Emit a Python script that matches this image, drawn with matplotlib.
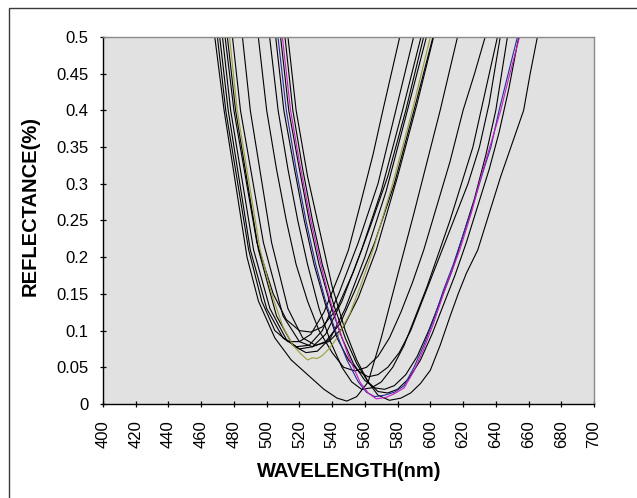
import matplotlib
matplotlib.use("Agg")
import matplotlib.pyplot as plt
from matplotlib.patches import Rectangle

plt.rcParams['font.family'] = ['Liberation Sans', 'DejaVu Sans']

# ---- data: wavelength (nm) / reflectance pairs ----
a1_wl = [468.3, 474, 481, 488, 495, 505, 515, 525, 535, 543, 549, 555, 562, 570, 577, 590, 606, 616.6]
a1_r  = [0.50, 0.40, 0.30, 0.20, 0.14, 0.09, 0.06, 0.04, 0.02, 0.008, 0.004, 0.01, 0.03, 0.09, 0.15, 0.26, 0.40, 0.50]

a2_wl = [469.9, 475, 489, 497, 505, 513, 520, 527, 535, 545, 550, 557, 565, 571, 581.3]
a2_r  = [0.50, 0.40, 0.21, 0.14, 0.10, 0.085, 0.085, 0.095, 0.125, 0.18, 0.21, 0.27, 0.34, 0.40, 0.50]

a3_wl = [471.3, 476.5, 490, 500, 510, 518, 526, 534, 544, 556, 568, 580, 589.8]
a3_r  = [0.50, 0.40, 0.21, 0.13, 0.09, 0.078, 0.08, 0.10, 0.15, 0.22, 0.30, 0.41, 0.50]

a4_wl = [473, 478, 492, 502, 512, 520, 528, 536, 546, 558, 570, 583, 594.3]
a4_r  = [0.50, 0.40, 0.21, 0.13, 0.088, 0.075, 0.078, 0.095, 0.14, 0.21, 0.29, 0.40, 0.50]

a5_wl = [474.6, 480, 494, 504, 512, 520, 527, 534, 543, 553, 563, 574, 585, 595.9]
a5_r  = [0.50, 0.40, 0.22, 0.15, 0.115, 0.10, 0.098, 0.105, 0.13, 0.18, 0.24, 0.31, 0.40, 0.50]

a6_wl = [476, 481, 495, 506, 516, 524, 531, 539, 548, 560, 573, 586, 597.6]
a6_r  = [0.50, 0.40, 0.21, 0.12, 0.08, 0.07, 0.072, 0.09, 0.13, 0.20, 0.29, 0.40, 0.50]

olive_wl = [477.3, 482, 496, 503, 510, 516, 521, 525, 528, 531, 534, 538, 543, 551, 558, 565, 577, 589, 600]
olive_r  = [0.50, 0.40, 0.21, 0.15, 0.105, 0.08, 0.068, 0.06, 0.063, 0.062, 0.066, 0.075, 0.09, 0.124, 0.165, 0.21, 0.30, 0.40, 0.50]

a8_wl = [479.1, 484, 498, 510, 520, 528, 536, 545, 555, 566, 578, 590, 601.6]
a8_r  = [0.50, 0.40, 0.22, 0.12, 0.085, 0.078, 0.085, 0.11, 0.16, 0.22, 0.30, 0.40, 0.50]

a9_wl = [485.2, 490, 503, 513, 522, 530, 538, 547, 556, 567, 580, 592, 602]
a9_r  = [0.50, 0.40, 0.22, 0.13, 0.09, 0.08, 0.085, 0.105, 0.145, 0.21, 0.31, 0.41, 0.50]

b1_wl = [494.9, 500, 506, 512, 518, 525, 532, 540, 547, 554, 561, 568, 575, 582, 589, 596, 604, 612, 620, 627, 633.5]
b1_r  = [0.50, 0.40, 0.32, 0.25, 0.19, 0.14, 0.10, 0.07, 0.05, 0.045, 0.05, 0.065, 0.09, 0.125, 0.165, 0.21, 0.27, 0.33, 0.40, 0.45, 0.50]

b2_wl = [501.8, 507, 513, 519, 525, 532, 539, 546, 552, 558, 564, 570, 577, 584, 591, 598, 605, 612, 619, 626, 633, 641]
b2_r  = [0.50, 0.40, 0.32, 0.25, 0.19, 0.13, 0.085, 0.05, 0.03, 0.02, 0.022, 0.03, 0.05, 0.08, 0.12, 0.16, 0.205, 0.25, 0.30, 0.35, 0.42, 0.50]

b3_wl = [505.5, 510.5, 517, 523, 529, 536, 543, 550, 556, 562, 568, 574, 581, 588, 595, 602, 609, 616, 623, 630, 636, 642.7]
b3_r  = [0.50, 0.40, 0.32, 0.25, 0.19, 0.135, 0.09, 0.06, 0.045, 0.037, 0.04, 0.05, 0.07, 0.10, 0.14, 0.18, 0.22, 0.26, 0.30, 0.35, 0.41, 0.50]

blue_wl = [506.9, 512, 518, 524, 530, 536, 542, 549, 556, 561, 566, 572, 578, 584, 590, 596, 602, 608, 614, 620, 626, 632, 637, 642, 647, 653.2]
blue_r  = [0.50, 0.40, 0.32, 0.25, 0.19, 0.14, 0.10, 0.06, 0.03, 0.016, 0.01, 0.012, 0.016, 0.025, 0.05, 0.08, 0.115, 0.155, 0.19, 0.23, 0.27, 0.315, 0.35, 0.40, 0.445, 0.50]

b5_wl = [508.5, 513.5, 520, 526, 532, 539, 546, 553, 560, 566, 572, 578, 585, 592, 599, 606, 613, 620, 627, 634, 640, 647.1]
b5_r  = [0.50, 0.40, 0.32, 0.25, 0.19, 0.135, 0.09, 0.055, 0.032, 0.022, 0.02, 0.025, 0.04, 0.065, 0.10, 0.14, 0.18, 0.23, 0.28, 0.34, 0.40, 0.50]

mag_wl = [509.6, 514.6, 520, 526, 532, 537, 543, 550, 557, 562, 567, 573, 578, 584, 590, 596, 602, 608, 613, 618, 625, 631, 637, 643, 648, 654.5]
mag_r  = [0.50, 0.40, 0.33, 0.26, 0.20, 0.155, 0.11, 0.065, 0.03, 0.015, 0.007, 0.009, 0.014, 0.022, 0.045, 0.075, 0.11, 0.15, 0.18, 0.21, 0.26, 0.31, 0.355, 0.40, 0.445, 0.50]

b7_wl = [511.2, 516, 522, 528, 534, 541, 548, 555, 562, 568, 574, 580, 587, 594, 601, 608, 615, 622, 629, 636, 642, 648, 654]
b7_r  = [0.50, 0.40, 0.32, 0.25, 0.19, 0.135, 0.09, 0.055, 0.03, 0.017, 0.015, 0.02, 0.035, 0.06, 0.095, 0.135, 0.175, 0.22, 0.27, 0.32, 0.37, 0.43, 0.50]

b8_wl = [513, 518, 525, 532, 540, 548, 555, 562, 568, 575, 582, 588, 594, 600, 606, 612, 617, 622, 629, 636, 643, 650, 657, 661, 665.4]
b8_r  = [0.50, 0.40, 0.31, 0.24, 0.16, 0.10, 0.06, 0.03, 0.012, 0.005, 0.008, 0.015, 0.028, 0.046, 0.08, 0.119, 0.15, 0.178, 0.21, 0.26, 0.31, 0.355, 0.40, 0.45, 0.50]

black_curves = [(a1_wl, a1_r), (a2_wl, a2_r), (a3_wl, a3_r), (a4_wl, a4_r),
                (a5_wl, a5_r), (a6_wl, a6_r), (a8_wl, a8_r), (a9_wl, a9_r),
                (b1_wl, b1_r), (b2_wl, b2_r), (b3_wl, b3_r), (b5_wl, b5_r),
                (b7_wl, b7_r), (b8_wl, b8_r)]

x_ticks = list(range(400, 701, 20))
y_ticks = [0, 0.05, 0.1, 0.15, 0.2, 0.25, 0.3, 0.35, 0.4, 0.45, 0.5]
y_tick_labels = ['0', '0.05', '0.1', '0.15', '0.2', '0.25', '0.3', '0.35', '0.4', '0.45', '0.5']

W, H = 637, 498
fig = plt.figure(figsize=(W / 100, H / 100), dpi=100)

# outer chart border (right/bottom edges lie outside the image)
fig.patches.append(Rectangle((8.5 / W, -0.1), 1.2, 1 - 8.5 / H + 0.1,
                             transform=fig.transFigure, fill=False,
                             edgecolor='#3a3a3a', linewidth=1.0))

left, right, top, bottom = 103, 594, 37, 404
ax = fig.add_axes([left / W, 1 - bottom / H, (right - left) / W, (bottom - top) / H])
ax.set_facecolor('#E1E1E1')

for wl, r in black_curves:
    ax.plot(wl, r, color='black', lw=0.8)
ax.plot(olive_wl, olive_r, color='#9C9C3A', lw=0.8)
ax.plot(blue_wl, blue_r, color='#2A2A9A', lw=0.8)
ax.plot(mag_wl, mag_r, color='#C21DC2', lw=0.8)

ax.set_xlim(400, 700)
ax.set_ylim(0, 0.5)
ax.set_xticks(x_ticks)
ax.set_xticklabels([str(v) for v in x_ticks], rotation=90)
ax.set_yticks(y_ticks)
ax.set_yticklabels(y_tick_labels)
ax.tick_params(direction='inout', length=5, width=0.9, labelsize=12, colors='black')
ax.tick_params(axis='y', pad=8)
ax.tick_params(axis='x', pad=9)

for s in ['top', 'right']:
    ax.spines[s].set_color('#8a8a8a')
    ax.spines[s].set_linewidth(1.0)
for s in ['left', 'bottom']:
    ax.spines[s].set_color('black')
    ax.spines[s].set_linewidth(1.0)

fig.text(349 / W, 1 - 471 / H, 'WAVELENGTH(nm)', ha='center', va='center',
         fontsize=14.5, fontweight='bold')
fig.text(30 / W, 1 - 206 / H, 'REFLECTANCE(%)', ha='center', va='center',
         rotation=90, fontsize=14.5, fontweight='bold')

fig.savefig('out.png', dpi=100)
